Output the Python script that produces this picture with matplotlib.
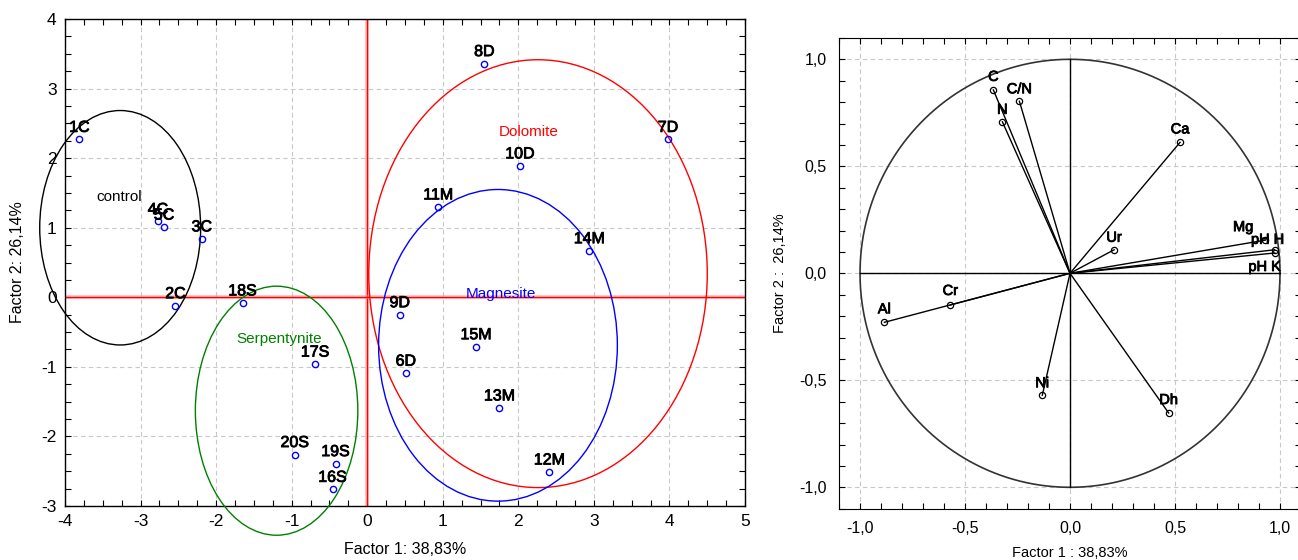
import numpy as np
import matplotlib
matplotlib.use("Agg")
import matplotlib.pyplot as plt
import matplotlib.patheffects as pe
from matplotlib.patches import Ellipse
from matplotlib.ticker import MultipleLocator, FuncFormatter

plt.rcParams['font.family'] = ['Liberation Sans', 'DejaVu Sans']
plt.rcParams['axes.unicode_minus'] = False

# ---------------- Data: sample scores (left) ----------------
sample_labels = ['1C', '2C', '3C', '4C', '5C',
                 '6D', '7D', '8D', '9D', '10D',
                 '11M', '12M', '13M', '14M', '15M',
                 '16S', '17S', '18S', '19S', '20S']
sample_f1 = [-3.81, -2.54, -2.19, -2.77, -2.69,
             0.51, 3.98, 1.55, 0.43, 2.02,
             0.94, 2.41, 1.75, 2.94, 1.44,
             -0.46, -0.69, -1.65, -0.42, -0.96]
sample_f2 = [2.27, -0.12, 0.84, 1.09, 1.01,
             -1.09, 2.27, 3.36, -0.25, 1.89,
             1.30, -2.51, -1.59, 0.67, -0.71,
             -2.76, -0.96, -0.08, -2.39, -2.26]

# group ellipses
group_names = ['control', 'Serpentynite', 'Dolomite', 'Magnesite']
group_colors = ['black', 'green', 'red', 'blue']
group_cx = [-3.27, -1.20, 2.26, 1.73]
group_cy = [1.00, -1.63, 0.34, -0.69]
group_w = [2.13, 2.15, 4.48, 3.16]
group_h = [3.37, 3.58, 6.15, 4.48]
group_label_x = [-3.28, -1.16, 2.14, 1.77]
group_label_y = [1.44, -0.60, 2.37, 0.05]

# ---------------- Data: variable loadings (right) ----------------
var_names = ['C', 'C/N', 'N', 'Ca', 'Ur', 'Mg', 'pH H', 'pH K', 'Al', 'Cr', 'Ni', 'Dh']
var_f1 = [-0.365, -0.241, -0.322, 0.524, 0.21, 0.93, 0.975, 0.975, -0.884, -0.57, -0.132, 0.47]
var_f2 = [0.857, 0.804, 0.708, 0.612, 0.11, 0.155, 0.11, 0.095, -0.229, -0.148, -0.570, -0.653]
# label offsets in pixels (style)
var_label_dx = [0, 0, 0, 0, 0, -22, -7, -10, 0, 0, 0, 0]
var_label_dy = [13, 12, 12, 13, 12, 13, 10, -14, 13, 14, 12, 13]

fig = plt.figure(figsize=(12.98, 5.6), dpi=100)
thick = [pe.withStroke(linewidth=0.6, foreground='black')]

# ---------------- Left plot ----------------
ax1 = fig.add_axes([0.0501, 0.0964, 0.5239, 0.8696])
ax1.set_xlim(-4, 5)
ax1.set_ylim(-3, 4)
ax1.xaxis.set_major_locator(MultipleLocator(1))
ax1.yaxis.set_major_locator(MultipleLocator(1))
ax1.xaxis.set_minor_locator(MultipleLocator(0.25))
ax1.yaxis.set_minor_locator(MultipleLocator(0.25))
ax1.tick_params(which='both', direction='in', top=True, right=True, length=4, width=0.8,
                labelsize=12.5)
ax1.tick_params(which='major', pad=6)
ax1.grid(True, which='major', linestyle=(0, (4, 3)), color='#c8c8c8', linewidth=0.8)
ax1.set_axisbelow(True)
for s in ax1.spines.values():
    s.set_linewidth(1.0)

ax1.axvline(0, color='#ff9090', lw=3, alpha=0.5, zorder=1)
ax1.axvline(0, color='red', lw=1, zorder=1)
ax1.axhline(0, color='#ff9090', lw=3, alpha=0.5, zorder=1)
ax1.axhline(0, color='red', lw=1, zorder=1)

for cx, cy, w, h, c in zip(group_cx, group_cy, group_w, group_h, group_colors):
    e = Ellipse((cx, cy), w, h, fill=False, edgecolor=c, lw=1.0, clip_on=False, zorder=3)
    ax1.add_patch(e)

for name, lx, ly, c in zip(group_names, group_label_x, group_label_y, group_colors):
    ax1.text(lx, ly, name, color=c, fontsize=11, ha='center', va='center', zorder=4)

ax1.plot(sample_f1, sample_f2, linestyle='none', marker='o', markersize=4.5,
         markerfacecolor='none', markeredgecolor='blue', markeredgewidth=1.0, zorder=5)
for lab, x, y in zip(sample_labels, sample_f1, sample_f2):
    ax1.annotate(lab, (x, y), xytext=(0, 12), textcoords='offset pixels',
                 ha='center', va='center', fontsize=11.5, color='black', zorder=6,
                 path_effects=thick)

fig.text(405 / 1298, 1 - 550 / 560, 'Factor 1: 38,83%', fontsize=11.5,
         ha='center', va='center')
ax1.set_ylabel('Factor 2: 26,14%', fontsize=11.5, labelpad=12)

# ---------------- Right plot ----------------
ax2 = fig.add_axes([0.6464, 0.0916, 0.3559, 0.8407])
ax2.set_xlim(-1.1, 1.1)
ax2.set_ylim(-1.1, 1.1)
ax2.xaxis.set_major_locator(MultipleLocator(0.5))
ax2.yaxis.set_major_locator(MultipleLocator(0.5))
ax2.xaxis.set_minor_locator(MultipleLocator(0.1))
ax2.yaxis.set_minor_locator(MultipleLocator(0.1))
fmt = FuncFormatter(lambda v, p: ('%.1f' % v).replace('.', ',').replace('-0,0', '0,0'))
ax2.xaxis.set_major_formatter(fmt)
ax2.yaxis.set_major_formatter(fmt)
ax2.tick_params(which='both', direction='in', top=True, right=True, length=4, width=0.8,
                labelsize=11.5)
ax2.tick_params(which='major', pad=9)
ax2.grid(True, which='major', linestyle=(0, (4, 3)), color='#c8c8c8', linewidth=0.8)
ax2.set_axisbelow(True)

t = np.linspace(0, 2 * np.pi, 400)
ax2.plot(np.cos(t), np.sin(t), color='#333333', lw=1.2, zorder=2)
ax2.plot([-1, 1], [0, 0], color='black', lw=1.0, zorder=2)
ax2.plot([0, 0], [-1, 1], color='black', lw=1.0, zorder=2)

for x, y in zip(var_f1, var_f2):
    ax2.plot([0, x], [0, y], color='black', lw=1.0, zorder=3)
ax2.plot(var_f1, var_f2, linestyle='none', marker='o', markersize=4.5,
         markerfacecolor='none', markeredgecolor='black', markeredgewidth=0.9, zorder=4)
for lab, x, y, dx, dy in zip(var_names, var_f1, var_f2, var_label_dx, var_label_dy):
    ax2.annotate(lab, (x, y), xytext=(dx, dy), textcoords='offset pixels',
                 ha='center', va='center', fontsize=10.5, color='black', zorder=5,
                 path_effects=thick)

fig.text(1070 / 1298, 1 - 553 / 560, 'Factor 1 : 38,83%', fontsize=10.5,
         ha='center', va='center')
ax2.set_ylabel('Factor 2 :  26,14%', fontsize=10.5, labelpad=9)

fig.savefig('out.png', dpi=100)
